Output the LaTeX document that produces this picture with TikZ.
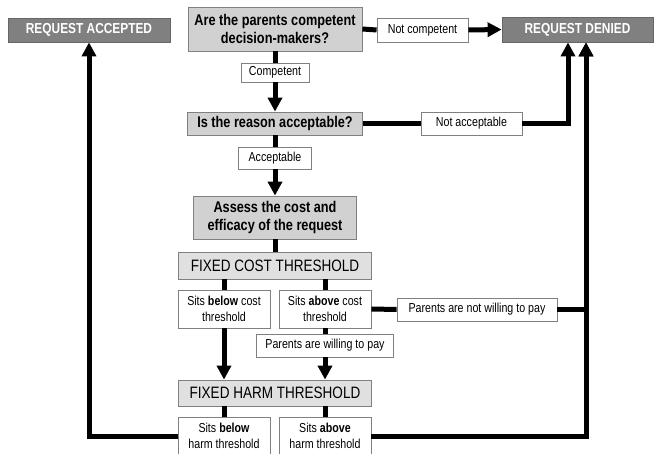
\documentclass[tikz,border=0pt]{standalone}
\usepackage{fontspec}
\setmainfont[FakeStretch=0.82]{Liberation Sans}
\usepackage{tikz}
\usetikzlibrary{arrows.meta, positioning}

\begin{document}
\begin{tikzpicture}[x=1pt,y=-1pt,>={Triangle[length=14pt,width=14pt]},
                    line width=5pt]
  \tikzstyle{box} = [draw=gray, line width=0.8pt, inner sep=0pt, align=center]
  \tikzstyle{outcome} = [box, draw=black!60, fill=black!50, text=white,
                         font=\bfseries\fontsize{14.5}{17}\selectfont]
  \tikzstyle{question} = [box, fill=black!18,
                          font=\bfseries\fontsize{15.5}{18}\selectfont]
  \tikzstyle{threshold} = [box, fill=black!12, font=\fontsize{16.5}{19}\selectfont]
  \tikzstyle{answer} = [box, fill=white, font=\fontsize{13}{15.5}\selectfont]
  \useasboundingbox (0,0) rectangle (659,454);

  % outcomes
  \node [outcome, minimum width=162pt, minimum height=24pt] (accepted) at (89,30) {REQUEST ACCEPTED};
  \node [outcome, minimum width=151pt, minimum height=25pt] (denied) at (577.5,29.5) {REQUEST DENIED};
  \coordinate (deniedL) at ([xshift=-9.5pt]denied.south);
  \coordinate (deniedR) at ([xshift=8.5pt]denied.south);

  % questions
  \node [question, minimum width=174pt, minimum height=44pt] (competent) at (275,29) {Are the parents competent\\decision-makers?};
  \node [answer, minimum width=91pt, minimum height=24pt] (notcompetent) at (422.5,30) {Not competent};
  \node [answer, minimum width=68pt, minimum height=19pt] (yescompetent) at (275,72.5) {Competent};
  \node [question, minimum width=175pt, minimum height=23pt] (reason) at (275,123.5) {Is the reason acceptable?};
  \node [answer, minimum width=101pt, minimum height=23pt] (notacceptable) at (471.5,123.5) {Not acceptable};
  \node [answer, minimum width=73pt, minimum height=22pt] (acceptable) at (275,158) {Acceptable};
  \node [question, minimum width=163pt, minimum height=43pt] (assess) at (275,217.5) {Assess the cost and\\efficacy of the request};

  % cost threshold
  \node [threshold, minimum width=193pt, minimum height=27pt] (cost) at (275,265.5) {FIXED COST THRESHOLD};
  \node [answer, minimum width=92pt, minimum height=38pt] (belowcost) at (224,309) {Sits \textbf{below} cost\\threshold};
  \node [answer, minimum width=92pt, minimum height=38pt] (abovecost) at (325,309) {Sits \textbf{above} cost\\threshold};
  \node [answer, minimum width=160pt, minimum height=23pt] (notpay) at (477,309.5) {Parents are not willing to pay};
  \node [answer, minimum width=137pt, minimum height=23pt] (willpay) at (325,345.5) {Parents are willing to pay};

  % harm threshold
  \node [threshold, minimum width=193pt, minimum height=26pt] (harm) at (275,393) {FIXED HARM THRESHOLD};
  \node [answer, minimum width=92pt, minimum height=38pt] (belowharm) at (224,436) {Sits \textbf{below}\\harm threshold};
  \node [answer, minimum width=92pt, minimum height=38pt] (aboveharm) at (325,436) {Sits \textbf{above}\\harm threshold};

  % connectors
  \draw (competent.east) -- (notcompetent.west);
  \draw [->] (notcompetent.east) -- (denied.west);
  \draw (competent.south) -- (yescompetent.north);
  \draw [->] (yescompetent.south) -- (reason.north);
  \draw (reason.east) -- (notacceptable.west);
  \draw [->] (notacceptable.east) -| (deniedL);
  \draw (reason.south) -- (acceptable.north);
  \draw [->] (acceptable.south) -- (assess.north);
  \draw (assess.south) -- (cost.north);
  \draw (belowcost.north |- cost.south) -- (belowcost.north);
  \draw (abovecost.north |- cost.south) -- (abovecost.north);
  \draw [->] (belowcost.south) -- (belowcost.south |- harm.north);
  \draw (abovecost.south) -- (willpay.north);
  \draw [->] (willpay.south) -- (willpay.south |- harm.north);
  \draw (abovecost.east) -- (notpay.west);
  \draw [->] (notpay.east) -| (deniedR);
  \draw (belowharm.north |- harm.south) -- (belowharm.north);
  \draw (aboveharm.north |- harm.south) -- (aboveharm.north);
  \draw [->] (belowharm.west) -| (accepted.south);
  \draw [->] (aboveharm.east) -| (deniedR);
\end{tikzpicture}
\end{document}
